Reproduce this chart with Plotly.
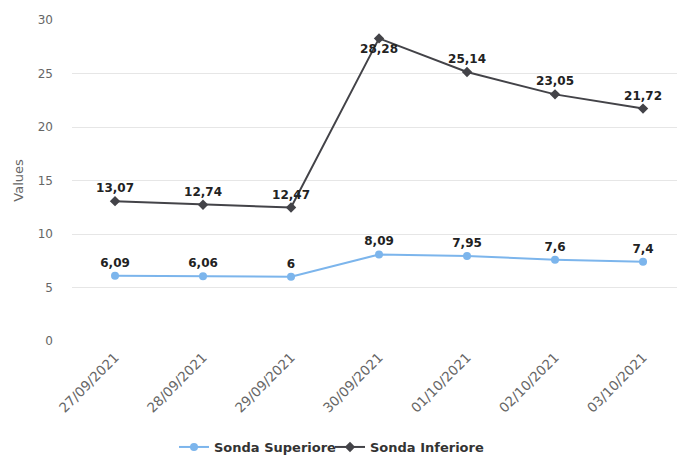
import plotly.graph_objects as go

categories = ["27/09/2021", "28/09/2021", "29/09/2021", "30/09/2021",
              "01/10/2021", "02/10/2021", "03/10/2021"]
sonda_superiore = [6.09, 6.06, 6.0, 8.09, 7.95, 7.6, 7.4]
sonda_inferiore = [13.07, 12.74, 12.47, 28.28, 25.14, 23.05, 21.72]
y_ticks = [0, 5, 10, 15, 20, 25, 30]


def fmt(v):
    s = ("%g" % v)
    return s.replace(".", ",")


x_idx = list(range(len(categories)))

label_font = dict(family="DejaVu Sans", size=12, color="#222222", weight="bold")

fig = go.Figure()
fig.add_trace(go.Scatter(
    x=x_idx, y=sonda_superiore, name="Sonda Superiore",
    mode="lines+markers+text",
    line=dict(color="#7cb5ec", width=2),
    marker=dict(symbol="circle", size=8, color="#7cb5ec"),
    text=[fmt(v) for v in sonda_superiore],
    textposition="top center",
    textfont=label_font,
    cliponaxis=False,
    legend="legend",
))
inf_pos = ["top center"] * len(sonda_inferiore)
inf_pos[sonda_inferiore.index(max(sonda_inferiore))] = "bottom center"
fig.add_trace(go.Scatter(
    x=x_idx, y=sonda_inferiore, name="Sonda Inferiore",
    mode="lines+markers+text",
    line=dict(color="#434348", width=2),
    marker=dict(symbol="diamond", size=8, color="#434348"),
    text=[fmt(v) for v in sonda_inferiore],
    textposition=inf_pos,
    textfont=label_font,
    cliponaxis=False,
    legend="legend2",
))

legend_common = dict(orientation="h", xref="container", yref="container",
                     xanchor="left", yanchor="middle", y=8 / 455,
                     font=dict(size=13, color="#333333", weight="bold"),
                     itemwidth=30, bgcolor="rgba(0,0,0,0)")

fig.update_layout(
    width=677, height=455,
    margin=dict(l=72, r=0, t=20, b=114, autoexpand=False),
    paper_bgcolor="white", plot_bgcolor="white",
    font=dict(family="DejaVu Sans", color="#666666", size=12),
    showlegend=True,
    legend=dict(legend_common, x=174 / 677),
    legend2=dict(legend_common, x=330 / 677),
    xaxis=dict(
        tickmode="array", tickvals=x_idx, ticktext=categories,
        range=[-0.489, 6.386], tickangle=-45, automargin=False,
        showgrid=False, zeroline=False, showline=False, ticks="",
        ticklabelstandoff=5,
        tickfont=dict(size=13.5, color="#666666"),
    ),
    yaxis=dict(
        range=[0, 30], tickmode="array", tickvals=y_ticks, automargin=False,
        showgrid=True, gridcolor="#e6e6e6", gridwidth=1,
        zeroline=False, showline=False, ticks="", ticklabelstandoff=18,
        tickfont=dict(size=12, color="#666666"),
    ),
    annotations=[dict(
        text="Values", xref="paper", yref="paper", x=-0.089, y=0.5,
        xanchor="center", yanchor="middle", textangle=-90, showarrow=False,
        font=dict(size=13, color="#666666"),
    )],
)

fig.write_html("out.html", config={"displayModeBar": False},
               post_script="document.body.style.margin='0';document.body.style.overflow='hidden';")
